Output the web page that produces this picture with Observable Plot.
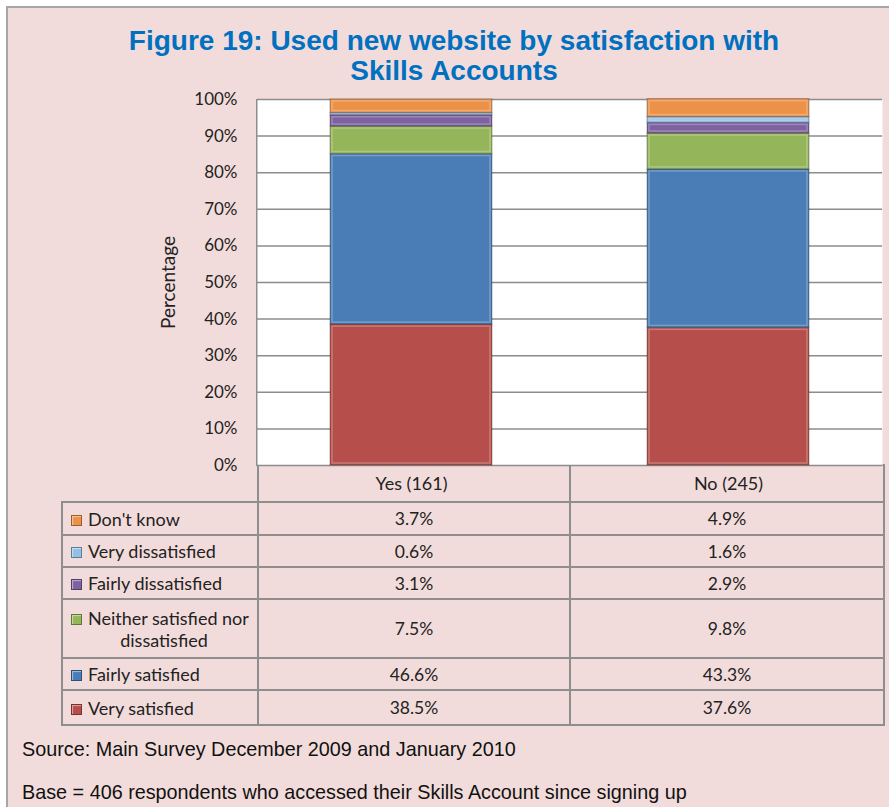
<!DOCTYPE html>
<html><head><meta charset="utf-8">
<script src="https://cdn.jsdelivr.net/npm/d3@7"></script>
<script src="https://cdn.jsdelivr.net/npm/@observablehq/plot@0.6"></script>
<style>
body{margin:0;background:#fff;}
#wrap{position:relative;width:889px;height:807px;overflow:hidden;background:#fff;}
#panel{position:absolute;left:6px;top:6px;width:883px;height:801px;background:#F2DCDB;border-top:2px solid #a6a6a6;border-left:2px solid #a6a6a6;box-sizing:border-box;}
#title{position:absolute;left:0;width:908px;top:26px;text-align:center;font:bold 28px "Liberation Sans",Arial,sans-serif;color:#0070C0;line-height:30px;}
#leftline{position:absolute;left:256px;top:99px;width:2px;height:367px;background:#8e8e8e;}
#chart{position:absolute;left:0;top:80px;}
table{position:absolute;left:61px;top:464px;border-collapse:collapse;table-layout:fixed;font-family:Lato,sans-serif;color:#222;}
td{border:2px solid #8e8e8e;padding:0;}
td.lab{font-size:18px;padding-left:8px;line-height:22px;}
td.val{font-size:17.5px;text-align:center;}
.sw{display:inline-block;width:9px;height:9px;margin-right:6px;border:1px solid rgba(0,0,0,0.35);box-shadow:inset 1px 1px 1px rgba(255,255,255,0.5);vertical-align:0px;}
.note{position:absolute;left:22px;font:19.8px "Liberation Sans",Arial,sans-serif;color:#111;}
</style></head>
<body>
<div id="wrap">
  <div id="panel"></div>
  <div id="title">Figure 19: Used new website by satisfaction with<br>Skills Accounts</div>
  <table id="tbl"></table>
  <div id="leftline"></div>
  <div id="chart"></div>
  <div class="note" style="top:738px">Source: Main Survey December 2009 and January 2010</div>
  <div class="note" style="top:781px">Base = 406 respondents who accessed their Skills Account since signing up</div>
</div>
<script>
const groups = ["Yes (161)", "No (245)"];
const categories = ["Very satisfied", "Fairly satisfied", "Neither satisfied nor dissatisfied", "Fairly dissatisfied", "Very dissatisfied", "Don't know"];
const labelLines = [["Very satisfied"], ["Fairly satisfied"], ["Neither satisfied nor", "dissatisfied"], ["Fairly dissatisfied"], ["Very dissatisfied"], ["Don't know"]];
const yesValues = [38.5, 46.6, 7.5, 3.1, 0.6, 3.7];
const noValues = [37.6, 43.3, 9.8, 2.9, 1.6, 4.9];
const colors = ["#B64F4B", "#4A7DB5", "#95B55A", "#7E61A0", "#92BFE6", "#EC9148"];
const yTicks = [0, 10, 20, 30, 40, 50, 60, 70, 80, 90, 100];
const rowHeights = [35, 32, 59, 32, 32, 33];

const series = [yesValues, noValues];
const rows = [];
categories.forEach((c, i) => groups.forEach((g, j) => rows.push({category: c, group: g, value: series[j][i]})));

const chart = Plot.plot({
  width: 889, height: 422,
  marginLeft: 257, marginRight: 7, marginTop: 19, marginBottom: 37,
  style: {background: "transparent", fontFamily: "Lato, sans-serif", fontSize: "17px", color: "#222"},
  x: {domain: groups, paddingInner: 0.49, paddingOuter: 0.23, label: null, tickSize: 0, tickPadding: 12},
  y: {domain: [0, 100], ticks: yTicks, tickFormat: d => d + "%", tickSize: 0, tickPadding: 20, label: null},
  color: {domain: categories, range: colors},
  marks: [
    Plot.frame({fill: "white", stroke: null}),
    Plot.ruleY(yTicks, {stroke: "#8c8c8c", strokeWidth: 1.5}),
    Plot.barY(rows, {x: "group", y: "value", fill: "category", order: categories, stroke: "#000", strokeOpacity: 0.25, strokeWidth: 1.2}),
    Plot.barY(rows, {x: "group", y: "value", z: "category", order: categories, fill: "none", stroke: "#fff", strokeOpacity: 0.25, strokeWidth: 1.5, inset: 2}),
    Plot.axisX({tickSize: 0, tickPadding: 12, fontSize: 18, label: null}),
    Plot.text(["Percentage"], {frameAnchor: "left", dx: -89, rotate: -90, textAnchor: "middle", fontSize: 19, fill: "#222"})
  ]
});
document.getElementById("chart").appendChild(chart);

// data table
const tbl = d3.select("#tbl");
const cg = tbl.append("colgroup");
[196, 312, 314].forEach(w => cg.append("col").style("width", w + "px"));
const head = tbl.append("tr").style("height", "37px");
head.append("td").style("border-top", "none").style("border-left", "none");
groups.forEach(() => head.append("td"));
for (let i = categories.length - 1; i >= 0; i--) {
  const tr = tbl.append("tr").style("height", rowHeights[i] + "px");
  const td = tr.append("td").attr("class", "lab");
  labelLines[i].forEach((line, k) => {
    const div = td.append("div");
    if (k === 0) {
      div.append("span").attr("class", "sw").style("background", colors[i]);
      div.append("span").text(line);
    } else {
      div.style("text-align", "center").text(line);
    }
  });
  series.forEach(s => tr.append("td").attr("class", "val").text(s[i].toFixed(1) + "%"));
}
</script>
</body></html>
